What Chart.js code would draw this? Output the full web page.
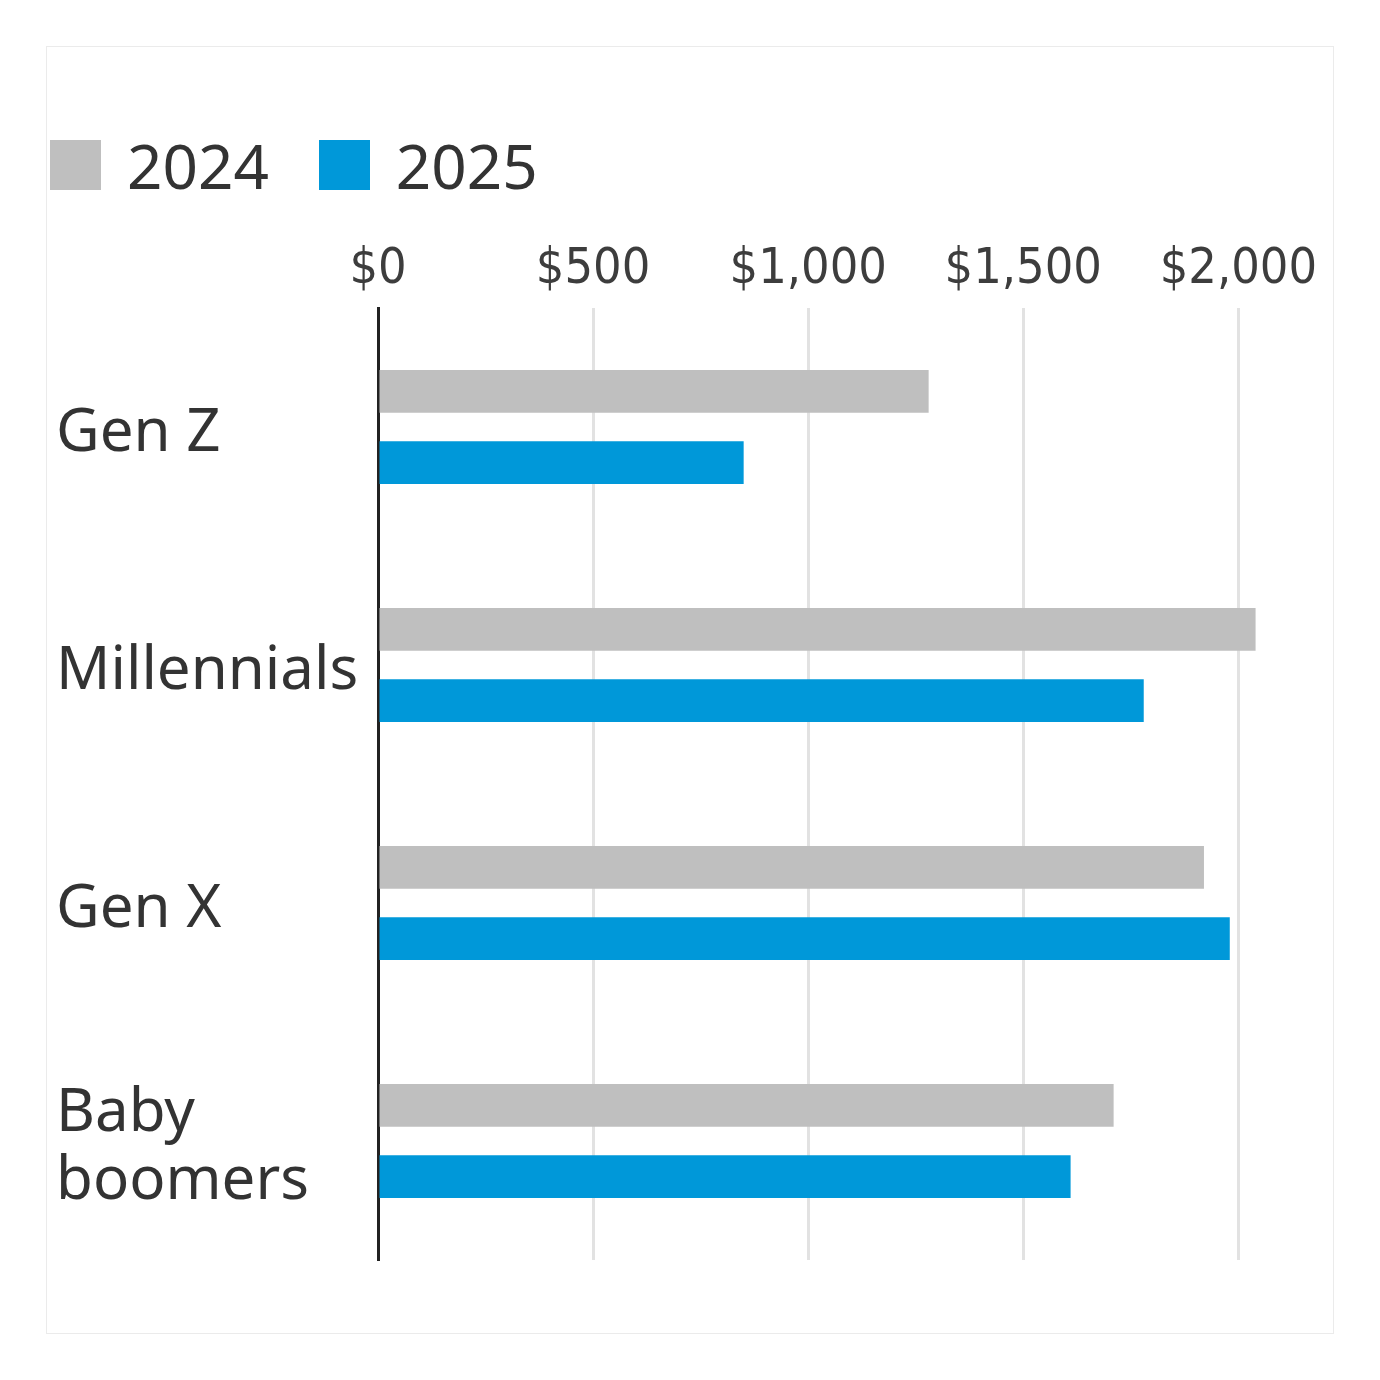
<!DOCTYPE html>
<html>
<head>
<meta charset="utf-8">
<script src="https://cdn.jsdelivr.net/npm/chart.js@4.4.1/dist/chart.umd.min.js"></script>
<style>
  body { margin: 0; background: #fff; width: 1380px; height: 1380px; position: relative; }
  .frame {
    position: absolute; left: 46px; top: 46px; width: 1288px; height: 1288px;
    border: 1px solid #ebebeb; box-sizing: border-box;
  }
  .chart-box { position: absolute; left: 0; top: 0; width: 1286px; height: 1286px; }
  #legend {
    position: absolute; left: 50px; top: 140px; display: flex; align-items: center;
    font-family: "Noto Sans", "Open Sans", sans-serif; font-size: 62px; color: #333;
  }
  #legend .item { display: flex; align-items: center; margin-right: 50px; }
  #legend .swatch { width: 51px; height: 50px; margin-right: 26px; }
  #legend .label { line-height: 50px; }
</style>
</head>
<body>
<div class="frame">
  <div class="chart-box"><canvas id="genChart"></canvas></div>
</div>
<div id="legend"></div>
<script>
// categories and values
const generations = ["Gen Z", "Millennials", "Gen X", ["Baby", "boomers"]];
const seriesNames = ["2024", "2025"];
const values2024 = [1280, 2040, 1920, 1710];
const values2025 = [850, 1780, 1980, 1610];
const xTicks = [0, 500, 1000, 1500, 2000];

const grey = "#bfbfbf";
const blue = "#0098d9";

// html legend built from the chart datasets
const htmlLegend = {
  id: "htmlLegend",
  afterUpdate(chart) {
    const box = document.getElementById("legend");
    box.innerHTML = "";
    chart.data.datasets.forEach((ds) => {
      const item = document.createElement("div");
      item.className = "item";
      const sw = document.createElement("span");
      sw.className = "swatch";
      sw.style.background = ds.backgroundColor;
      const txt = document.createElement("span");
      txt.className = "label";
      txt.textContent = ds.label;
      item.appendChild(sw);
      item.appendChild(txt);
      box.appendChild(item);
    });
  },
};

const ctx = document.getElementById("genChart").getContext("2d");
const genChart = new Chart(ctx, {
  type: "bar",
  data: {
    labels: generations,
    datasets: [
      { label: seriesNames[0], data: values2024, backgroundColor: grey },
      { label: seriesNames[1], data: values2025, backgroundColor: blue },
    ],
  },
  options: {
    indexAxis: "y",
    responsive: true,
    maintainAspectRatio: false,
    animation: false,
    categoryPercentage: 0.6,
    barPercentage: 0.6,
    layout: { padding: { left: 9, right: 43, top: 171, bottom: 73 } },
    plugins: {
      legend: { display: false },
      tooltip: { enabled: false },
    },
    scales: {
      x: {
        position: "top",
        min: 0,
        max: 2120,
        afterBuildTicks: (scale) => {
          scale.ticks = xTicks.map((v) => ({ value: v }));
        },
        afterFit: (scale) => {
          scale.height = 90;
        },
        border: { display: false },
        grid: {
          drawTicks: false,
          lineWidth: 3,
          color: (c) => (c.tick && c.tick.value === 0 ? "#222" : "#e2e2e2"),
        },
        ticks: {
          padding: 8,
          color: "#3d3d3d",
          font: { family: '"Liberation Sans Narrow", "DejaVu Sans Condensed", sans-serif', size: 50 },
          callback: (v) => "$" + Number(v).toLocaleString("en-US"),
        },
      },
      y: {
        afterFit: (scale) => {
          scale.width = 322;
        },
        border: { display: true, color: "#222", width: 3 },
        grid: { display: false },
        ticks: {
          crossAlign: "far",
          labelOffset: 7,
          color: "#333",
          font: { family: '"Noto Sans", "Open Sans", sans-serif', size: 60, lineHeight: 1.13 },
        },
      },
    },
  },
  plugins: [htmlLegend],
});
</script>
</body>
</html>
